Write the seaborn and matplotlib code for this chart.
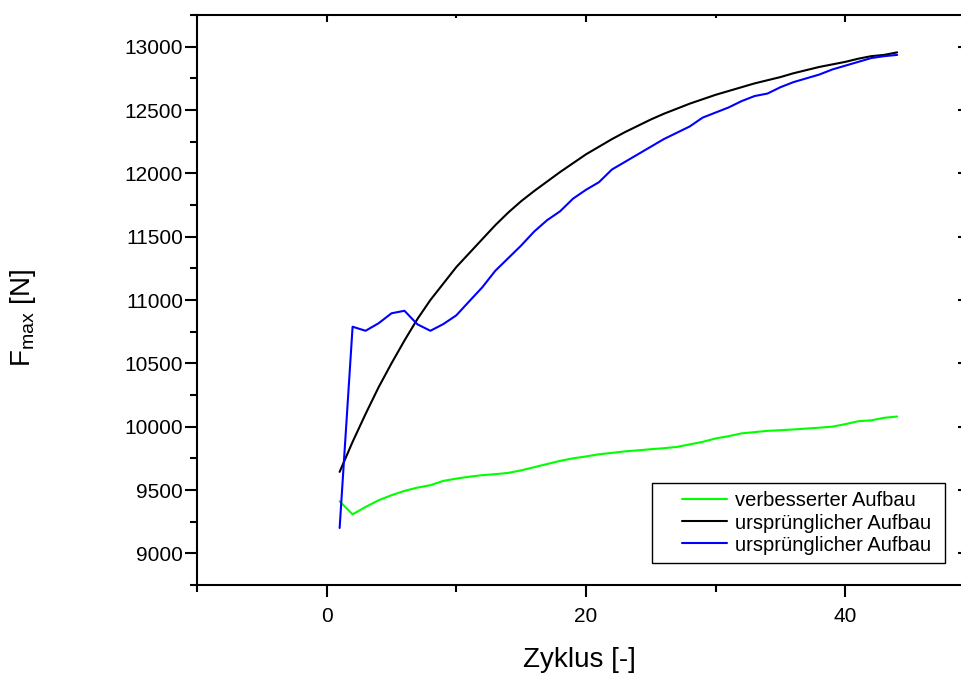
import numpy as np
import pandas as pd
import matplotlib
matplotlib.use("Agg")
import matplotlib.pyplot as plt
import seaborn as sns

# ---------------- data ----------------
zyklus = list(range(1, 45))

verbessert = [9411, 9308, 9366, 9419, 9459, 9493, 9519, 9538, 9572, 9590,
              9605, 9617, 9625, 9635, 9655, 9680, 9705, 9730, 9750, 9765,
              9782, 9793, 9805, 9813, 9822, 9830, 9840, 9860, 9880, 9907,
              9925, 9947, 9957, 9967, 9972, 9978, 9985, 9992, 10000, 10020,
              10043, 10050, 10070, 10080]

urspruenglich_1 = [9643, 9880, 10100, 10310, 10500, 10680, 10850, 11000, 11130, 11260,
                   11370, 11480, 11590, 11690, 11780, 11860, 11935, 12010, 12080, 12150,
                   12210, 12270, 12325, 12375, 12425, 12470, 12510, 12550, 12585, 12620,
                   12650, 12680, 12710, 12735, 12760, 12790, 12815, 12840, 12860, 12880,
                   12905, 12925, 12935, 12955]

urspruenglich_2 = [9200, 10789, 10757, 10816, 10895, 10915, 10808, 10757, 10810, 10879,
                   10990, 11100, 11230, 11330, 11430, 11540, 11630, 11700, 11800, 11870,
                   11930, 12030, 12090, 12150, 12210, 12270, 12320, 12370, 12440, 12480,
                   12520, 12570, 12610, 12630, 12680, 12720, 12750, 12780, 12820, 12850,
                   12880, 12910, 12925, 12935]

series_names = ["verbesserter Aufbau", "ursprünglicher Aufbau", "ursprünglicher Aufbau "]
series_colors = ["#00FF00", "#000000", "#0000FF"]
x_major = [0, 20, 40]
x_minor = [-10, 10, 30]
y_major = [9000, 9500, 10000, 10500, 11000, 11500, 12000, 12500, 13000]
y_minor = [8750, 9250, 9750, 10250, 10750, 11250, 11750, 12250, 12750, 13250]

# ---------------- style ----------------
sns.set_style("ticks")
plt.rcParams["font.family"] = ["Liberation Sans", "DejaVu Sans"]
plt.rcParams["mathtext.fontset"] = "custom"
plt.rcParams["mathtext.rm"] = "Liberation Sans"
plt.rcParams["mathtext.it"] = "Liberation Sans"
plt.rcParams["text.color"] = "black"
plt.rcParams["xtick.color"] = "black"
plt.rcParams["ytick.color"] = "black"
plt.rcParams["axes.labelcolor"] = "black"

df = pd.concat([
    pd.DataFrame({"Zyklus": zyklus, "F": vals, "Serie": name})
    for name, vals in zip(series_names, [verbessert, urspruenglich_1, urspruenglich_2])
], ignore_index=True)

fig = plt.figure(figsize=(9.61, 6.73), dpi=100)
ax = fig.add_axes([197 / 961, 88 / 673, 765 / 961, 570 / 673])

sns.lineplot(data=df, x="Zyklus", y="F", hue="Serie",
             palette=dict(zip(series_names, series_colors)),
             linewidth=1.5, ax=ax, legend=True)

ax.set_xlim(-10, 49)
ax.set_ylim(8750, 13250)

for s in ["left", "bottom", "top", "right"]:
    ax.spines[s].set_linewidth(1.5)
    ax.spines[s].set_color("black")

ax.set_xticks(x_major)
ax.set_xticks(x_minor, minor=True)
ax.set_yticks(y_major)
ax.set_yticks(y_minor, minor=True)
ax.tick_params(axis="both", which="major", direction="out", length=8.5, width=1.5,
               top=False, right=False)
ax.tick_params(axis="both", which="minor", direction="out", length=5, width=1.5,
               top=False, right=False)
ax.tick_params(axis="y", labelsize=15, pad=1.5)
ax.tick_params(axis="x", labelsize=15, pad=7)

# inward ticks on top and right
top = ax.secondary_xaxis("top")
top.set_xticks(x_major)
top.set_xticks(x_minor, minor=True)
top.tick_params(which="major", direction="in", length=5, width=1.5, labeltop=False)
top.tick_params(which="minor", direction="in", length=2.5, width=1.5)
top.spines["top"].set_visible(False)
right = ax.secondary_yaxis("right")
right.set_yticks(y_major)
right.tick_params(which="major", direction="in", length=3, width=1.5, labelright=False)
right.spines["right"].set_visible(False)

ax.set_xlabel("Zyklus [-]", fontsize=20)
ax.xaxis.set_label_coords(0.5, (585 - 647) / 570)
ax.set_ylabel(r"F$_{\mathregular{max}}$ [N]", fontsize=20)
ax.yaxis.set_label_coords((38 - 197) / 765, (585 - 318) / 570)

handles, labels = ax.get_legend_handles_labels()
leg = ax.legend(handles, [l.strip() + " " for l in labels], loc="lower right",
                bbox_to_anchor=((945 - 197) / 765, (585 - 563) / 570),
                fontsize=14.5, frameon=True, fancybox=False, shadow=False,
                edgecolor="black", framealpha=1, borderpad=0.42,
                handlelength=3.3, handletextpad=0.4, labelspacing=0.15,
                borderaxespad=0)
leg.get_frame().set_linewidth(1.0)
for line in leg.get_lines():
    line.set_linewidth(1.5)
    xd = np.asarray(line.get_xdata(), dtype=float)
    if xd.size >= 2:
        start = xd[0] + (xd[-1] - xd[0]) * 0.32
        line.set_xdata(np.linspace(start, xd[-1], xd.size))

fig.savefig("out.png", dpi=100)
